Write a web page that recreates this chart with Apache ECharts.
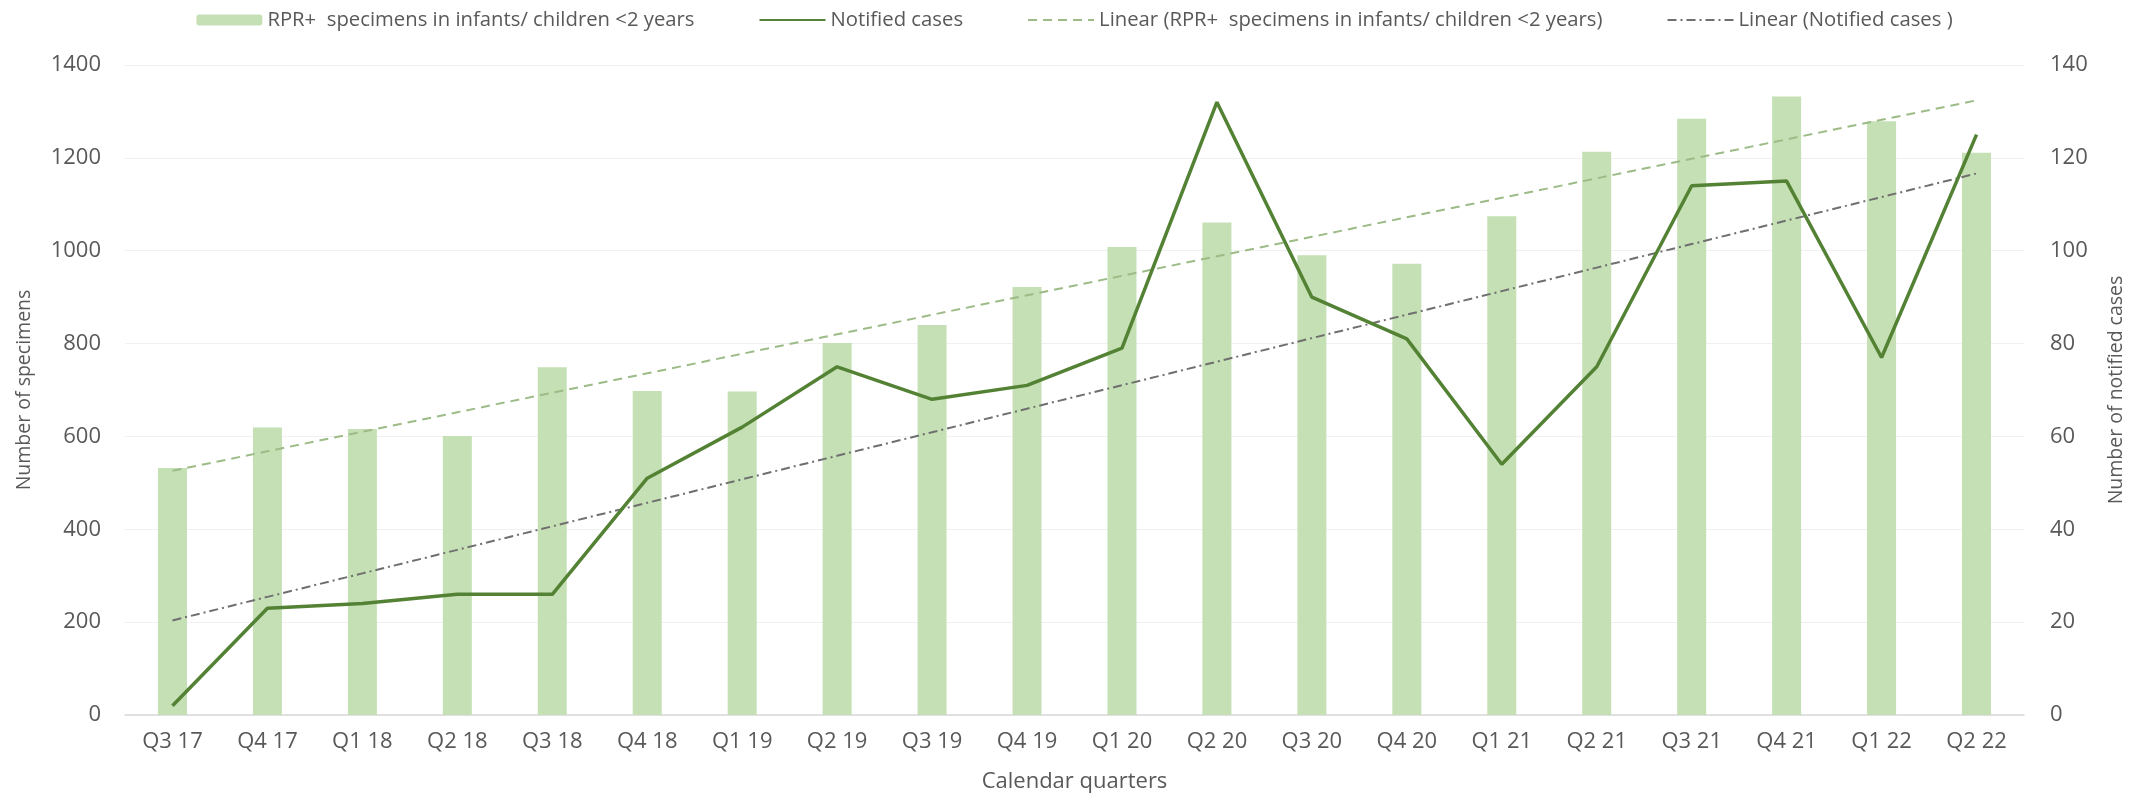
<!DOCTYPE html>
<html>
<head>
<meta charset="utf-8">
<script src="https://cdn.jsdelivr.net/npm/echarts@6/dist/echarts.min.js"></script>
<style>html,body{margin:0;padding:0;background:#fff;}#c{width:2149px;height:798px;}</style>
</head>
<body>
<div id="c"></div>
<script>
const categories = ['Q3 17','Q4 17','Q1 18','Q2 18','Q3 18','Q4 18','Q1 19','Q2 19','Q3 19','Q4 19','Q1 20','Q2 20','Q3 20','Q4 20','Q1 21','Q2 21','Q3 21','Q4 21','Q1 22','Q2 22'];
const specimens = [532, 619, 616, 601, 749, 698, 697, 801, 840, 922, 1008, 1061, 990, 972, 1074, 1213, 1284, 1332, 1279, 1211];
const notified = [2, 23, 24, 26, 26, 51, 62, 75, 68, 71, 79, 132, 90, 81, 54, 75, 114, 115, 77, 125];
const leftTicks = { min: 0, max: 1400, interval: 200 };
const rightTicks = { min: 0, max: 140, interval: 20 };
const seriesNames = ['RPR+  specimens in infants/ children <2 years', 'Notified cases', 'Linear (RPR+  specimens in infants/ children <2 years)', 'Linear (Notified cases )'];

// Least-squares linear trend (as Excel "Linear" trendline) computed from the data
function linearTrend(vals) {
  const n = vals.length;
  let sx = 0, sy = 0, sxx = 0, sxy = 0;
  vals.forEach((v, i) => { sx += i; sy += v; sxx += i * i; sxy += i * v; });
  const b = (n * sxy - sx * sy) / (n * sxx - sx * sx);
  const a = (sy - b * sx) / n;
  return vals.map((_, i) => +(a + b * i).toFixed(2));
}

const font = 'Open Sans';
const txt = '#595959';
const hideSym = { opacity: 0, borderWidth: 0 };
const chart = echarts.init(document.getElementById('c'), null, { renderer: 'canvas' });
chart.setOption({
  animation: false,
  backgroundColor: '#ffffff',
  textStyle: { fontFamily: font },
  legend: {
    top: 5,
    left: 'center',
    itemWidth: 66,
    itemHeight: 11,
    itemGap: 64,
    textStyle: { fontFamily: font, fontSize: 20.3, color: txt },
    data: [
      { name: seriesNames[0] },
      { name: seriesNames[1], itemStyle: hideSym },
      { name: seriesNames[2], itemStyle: hideSym },
      { name: seriesNames[3], itemStyle: hideSym }
    ]
  },
  grid: { left: 125, right: 125, top: 65, bottom: 81, containLabel: false },
  xAxis: {
    type: 'category',
    data: categories,
    name: 'Calendar quarters',
    nameLocation: 'middle',
    nameGap: 56,
    nameTextStyle: { fontFamily: font, fontSize: 22, color: txt },
    axisLine: { lineStyle: { color: '#d9d9d9', width: 1.5 } },
    axisTick: { show: false },
    axisLabel: { fontFamily: font, fontSize: 22, color: txt, margin: 16 }
  },
  yAxis: [
    {
      type: 'value',
      min: leftTicks.min, max: leftTicks.max, interval: leftTicks.interval,
      name: 'Number of specimens',
      nameLocation: 'middle',
      nameGap: 91,
      nameTextStyle: { fontFamily: font, fontSize: 19.5, color: txt },
      axisLine: { show: false },
      axisTick: { show: false },
      axisLabel: { fontFamily: font, fontSize: 22, color: txt, margin: 24, formatter: v => String(v) },
      splitLine: { lineStyle: { color: '#f0f0f0', width: 1 } }
    },
    {
      type: 'value',
      min: rightTicks.min, max: rightTicks.max, interval: rightTicks.interval,
      name: 'Number of notified cases',
      nameLocation: 'middle',
      nameGap: 82,
      nameTextStyle: { fontFamily: font, fontSize: 19.5, color: txt },
      axisLine: { show: false },
      axisTick: { show: false },
      axisLabel: { fontFamily: font, fontSize: 22, color: txt, margin: 26, formatter: v => String(v) },
      splitLine: { show: false }
    }
  ],
  series: [
    {
      name: seriesNames[0],
      type: 'bar',
      data: specimens,
      barWidth: 29,
      itemStyle: { color: '#c5e0b4' },
      z: 1
    },
    {
      name: seriesNames[2],
      type: 'line',
      data: linearTrend(specimens),
      yAxisIndex: 0,
      symbol: 'none',
      lineStyle: { color: '#9cbb86', width: 2, type: [9, 6] },
      itemStyle: { color: '#9cbb86' },
      z: 3
    },
    {
      name: seriesNames[3],
      type: 'line',
      data: linearTrend(notified),
      yAxisIndex: 1,
      symbol: 'none',
      lineStyle: { color: '#6f6f6f', width: 2, type: [9, 4, 2, 4] },
      itemStyle: { color: '#6f6f6f' },
      z: 3
    },
    {
      name: seriesNames[1],
      type: 'line',
      data: notified,
      yAxisIndex: 1,
      symbol: 'none',
      lineStyle: { color: '#548235', width: 3.5 },
      itemStyle: { color: '#548235' },
      z: 4
    }
  ]
});
</script>
</body>
</html>
